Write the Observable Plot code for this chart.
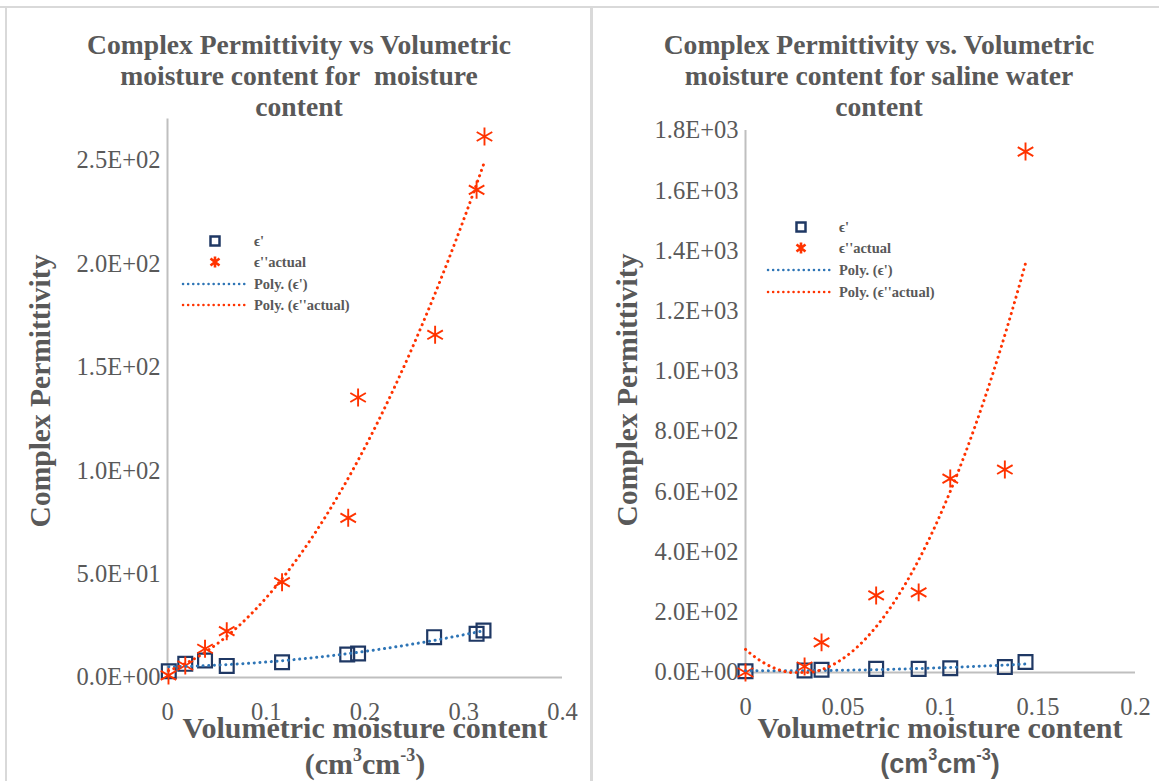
<!DOCTYPE html>
<html>
<head>
<meta charset="utf-8">
<script src="https://cdn.jsdelivr.net/npm/d3@7"></script>
<script src="https://cdn.jsdelivr.net/npm/@observablehq/plot@0.6"></script>
<style>
  html, body { margin: 0; padding: 0; background: #fff; }
  #root { position: relative; width: 1159px; height: 781px; overflow: hidden; background: #fff; }
  .abs { position: absolute; }
  .title { font: bold 27.6px "Liberation Serif", serif; color: #595959; text-align: center; line-height: 31px; white-space: nowrap; transform: translateX(-50%); }
  .ytitle { font: bold 29.5px "Liberation Serif", serif; color: #595959; white-space: nowrap; transform: translate(-50%, -50%) rotate(-90deg); }
  .xtitle { font: bold 30px "Liberation Serif", serif; color: #595959; white-space: nowrap; transform: translate(-50%, -50%); line-height: 1; }
  .xtitle sup { font-size: 60%; vertical-align: 0.75em; line-height: 0; }
  .legend { font: bold 14.5px "Liberation Serif", serif; color: #595959; }
  .legrow { position: absolute; white-space: nowrap; transform: translateY(-50%); }
  .border { position: absolute; background: #D9D9D9; }
</style>
</head>
<body>
<div id="root"></div>
<script>
// ---------- Data: left chart (moisture content) ----------
const leftX       = [0.0013, 0.018, 0.038, 0.060, 0.116, 0.182, 0.193, 0.270, 0.313, 0.320];
const leftEps1    = [3.0, 6.6, 8.2, 5.6, 7.4, 11.1, 11.6, 19.5, 21.1, 22.7];
const leftEps2X   = [0.001, 0.018, 0.038, 0.060, 0.116, 0.183, 0.193, 0.271, 0.313, 0.321];
const leftEps2    = [1.0, 5.8, 13.9, 22.4, 46.1, 77.2, 135.4, 165.7, 235.8, 261.6];
const leftXTicks  = [0, 0.1, 0.2, 0.3, 0.4];
const leftYTicks  = [0, 50, 100, 150, 200, 250];

// ---------- Data: right chart (saline water content) ----------
const rightX      = [0, 0.0303, 0.039, 0.067, 0.0888, 0.105, 0.133, 0.1436];
const rightEps1   = [4, 7, 9, 12, 12, 14, 18, 35];
const rightEps2   = [0, 20, 100, 256, 266, 644, 674, 1730];
const rightXTicks = [0, 0.05, 0.1, 0.15, 0.2];
const rightYTicks = [0, 200, 400, 600, 800, 1000, 1200, 1400, 1600, 1800];

const legendLabels = ["\u03F5'", "\u03F5''actual", "Poly. (\u03F5')", "Poly. (\u03F5''actual)"];

const NAVY = "#1F3864", RED = "#FF3300", BLUE = "#2E75B6", GRAY = "#595959", AXIS = "#BFBFBF";

// Tick format like Excel "0.0E+00"
const sci = d => {
  const [m, e] = d.toExponential(1).split("e");
  return `${m}E${e[0]}${e.slice(1).padStart(2, "0")}`;
};

// Least-squares polynomial trendline (order 2), as Excel "Poly." trendline
function polyFit2(xs, ys) {
  const n = xs.length;
  let s = [0,0,0,0,0], t = [0,0,0];
  for (let i = 0; i < n; i++) {
    const x = xs[i], y = ys[i];
    for (let k = 0; k <= 4; k++) s[k] += Math.pow(x, k);
    for (let k = 0; k <= 2; k++) t[k] += Math.pow(x, k) * y;
  }
  const A = [[s[0], s[1], s[2], t[0]], [s[1], s[2], s[3], t[1]], [s[2], s[3], s[4], t[2]]];
  for (let c = 0; c < 3; c++) {
    let p = c;
    for (let r = c + 1; r < 3; r++) if (Math.abs(A[r][c]) > Math.abs(A[p][c])) p = r;
    [A[c], A[p]] = [A[p], A[c]];
    for (let r = 0; r < 3; r++) if (r !== c) {
      const f = A[r][c] / A[c][c];
      for (let k = c; k < 4; k++) A[r][k] -= f * A[c][k];
    }
  }
  const coef = [A[0][3] / A[0][0], A[1][3] / A[1][1], A[2][3] / A[2][2]];
  const x0 = d3.min(xs), x1 = d3.max(xs);
  return d3.range(0, 201).map(i => {
    const x = x0 + (x1 - x0) * i / 200;
    return {x, y: coef[0] + coef[1] * x + coef[2] * x * x};
  });
}

function makeChart(opts) {
  const p1 = opts.x1.map((x, i) => ({x, y: opts.e1[i]}));
  const p2 = opts.x2.map((x, i) => ({x, y: opts.e2[i]}));
  const t1 = polyFit2(opts.x1, opts.e1);
  const t2 = polyFit2(opts.x2, opts.e2);
  return Plot.plot({
    width: opts.width, height: 781,
    marginLeft: opts.ml, marginRight: opts.mr, marginTop: opts.mt, marginBottom: opts.mb,
    x: {domain: opts.xDomain, ticks: opts.xTicks, tickFormat: d => String(d)},
    y: {domain: opts.yDomain, ticks: opts.yTicks, tickFormat: sci},
    style: {fontFamily: '"Liberation Serif", serif', fontSize: "24.5px", color: GRAY, background: "transparent", overflow: "visible"},
    marks: [
      Plot.ruleY([0], {stroke: AXIS, strokeWidth: 2}),
      Plot.ruleX([0], {stroke: AXIS, strokeWidth: 2}),
      Plot.axisX({ticks: opts.xTicks, tickSize: 0, tickPadding: 25, label: null, tickFormat: d => String(d), fill: GRAY}),
      Plot.axisY({ticks: opts.yTicks, tickSize: 0, tickPadding: 7, label: null, tickFormat: sci, fill: GRAY}),
      Plot.dot(p1, {x: "x", y: "y", symbol: "square", r: 7.8, stroke: NAVY, strokeWidth: 2.2, fill: "none"}),
      Plot.dot(p2, {x: "x", y: "y", symbol: "asterisk", r: 8.5, stroke: RED, strokeWidth: 1.9}),
      Plot.line(t1.filter(d => d.y >= opts.yDomain[0] && d.y <= opts.yDomain[1]), {x: "x", y: "y", stroke: BLUE, strokeWidth: 3, strokeDasharray: "0.1 5.6", strokeLinecap: "round"}),
      Plot.line(t2.filter(d => d.y >= opts.yDomain[0] && d.y <= opts.yDomain[1]), {x: "x", y: "y", stroke: RED, strokeWidth: 3, strokeDasharray: "0.1 5.6", strokeLinecap: "round"})
    ]
  });
}

const root = document.getElementById("root");
function add(html) { root.insertAdjacentHTML("beforeend", html); }

// borders
add(`<div class="border" style="left:0;top:6px;width:1159px;height:2px;"></div>`);
add(`<div class="border" style="left:5px;top:6px;width:2px;height:781px;"></div>`);
add(`<div class="border" style="left:590px;top:6px;width:3px;height:781px;"></div>`);

// Left chart
const left = makeChart({
  width: 580, ml: 167, mr: 18, mt: 118.6, mb: 104,
  xDomain: [0, 0.4], yDomain: [0, 270], xTicks: leftXTicks, yTicks: leftYTicks,
  x1: leftX, e1: leftEps1, x2: leftEps2X, e2: leftEps2
});
left.style.position = "absolute"; left.style.left = "0px"; left.style.top = "0px";
root.appendChild(left);

// Right chart
const right = makeChart({
  width: 579, ml: 165, mr: 24, mt: 130, mb: 109,
  xDomain: [0, 0.2], yDomain: [0, 1800], xTicks: rightXTicks, yTicks: rightYTicks,
  x1: rightX, e1: rightEps1, x2: rightX, e2: rightEps2
});
right.style.position = "absolute"; right.style.left = "580px"; right.style.top = "0px";
root.appendChild(right);

// Titles
add(`<div class="abs title" style="left:299px;top:29px;">Complex Permittivity vs Volumetric<br>moisture content for&nbsp; moisture<br>content</div>`);
add(`<div class="abs title" style="left:879px;top:29px;">Complex Permittivity vs. Volumetric<br>moisture content for saline water<br>content</div>`);

// Axis titles
add(`<div class="abs ytitle" style="left:40px;top:391px;">Complex Permittivity</div>`);
add(`<div class="abs ytitle" style="left:627px;top:390px;">Complex Permittivity</div>`);
add(`<div class="abs xtitle" style="left:365px;top:728px;">Volumetric moisture content</div>`);
add(`<div class="abs xtitle" style="left:365px;top:764px;">(cm<sup>3</sup>cm<sup>-3</sup>)</div>`);
add(`<div class="abs xtitle" style="left:940px;top:728px;">Volumetric moisture content</div>`);
add(`<div class="abs xtitle" style="left:940px;top:764px;font-family:'Liberation Sans',sans-serif;font-size:27px;">(cm<sup>3</sup>cm<sup>-3</sup>)</div>`);

// Legends
function legend(markerX, textX, lineX0, lineX1, rows) {
  const sq = `<svg width="14" height="14" style="position:absolute;left:${markerX - 7}px;top:${rows[0] - 7}px"><rect x="2.5" y="2.5" width="9" height="9" fill="none" stroke="${NAVY}" stroke-width="2.5"/></svg>`;
  const st = `<svg width="14" height="14" style="position:absolute;left:${markerX - 7}px;top:${rows[1] - 7}px"><path d="M7,1.5V12.5M2.5,3.5L11.5,10.5M2.5,10.5L11.5,3.5" stroke="${RED}" stroke-width="2.6"/></svg>`;
  const ln = (y, c) => `<svg width="${lineX1 - lineX0 + 4}" height="6" style="position:absolute;left:${lineX0 - 2}px;top:${y - 3}px"><line x1="2" y1="3" x2="${lineX1 - lineX0 + 2}" y2="3" stroke="${c}" stroke-width="2.5" stroke-dasharray="0.1 5" stroke-linecap="round"/></svg>`;
  let html = sq + st + ln(rows[2], BLUE) + ln(rows[3], RED);
  legendLabels.forEach((t, i) => {
    html += `<div class="legrow legend" style="left:${textX}px;top:${rows[i]}px;">${t}</div>`;
  });
  add(html);
}
legend(215, 254, 183, 247, [241, 262, 284, 305]);
legend(801, 839, 768, 832, [227, 248, 270, 292]);
</script>
</body>
</html>
